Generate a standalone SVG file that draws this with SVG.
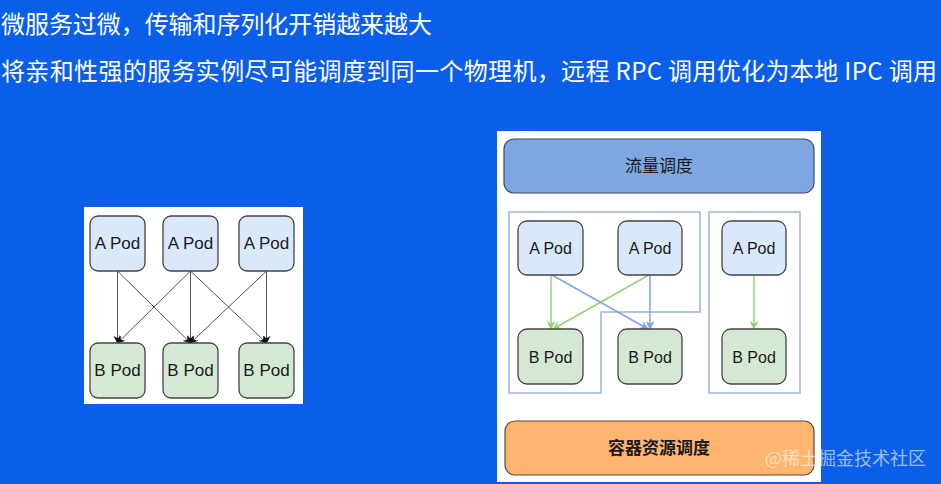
<svg xmlns="http://www.w3.org/2000/svg" width="941" height="484" viewBox="0 0 941 484">
<defs>
<style>
.head{font-family:"Noto Sans CJK SC","Liberation Sans",sans-serif;font-size:24px;fill:#ffffff}
.pod{font-family:"Liberation Sans",Arial,sans-serif;font-size:17px;fill:#1a1a1a;text-anchor:middle}
.podr{font-family:"Liberation Sans",Arial,sans-serif;font-size:16px;fill:#1a1a1a;text-anchor:middle}
.cjk{font-family:"Noto Sans CJK SC",sans-serif;font-size:17px;fill:#1a1a1a;text-anchor:middle}
.a{fill:#dae8fc;stroke:#444444;stroke-width:1.3}
.b{fill:#d5e8d4;stroke:#444444;stroke-width:1.3}
.blk{stroke:#555555;stroke-width:1;fill:none;marker-end:url(#mb)}
.grn{stroke:#97d077;stroke-width:1.5;fill:none;marker-end:url(#mg)}
.blu{stroke:#7ea6e0;stroke-width:1.5;fill:none;marker-end:url(#mu)}
.cont{fill:none;stroke:#9db3de;stroke-width:1.5}
</style>
<marker id="mb" viewBox="0 0 10 10" refX="9" refY="5" markerWidth="8" markerHeight="8" markerUnits="userSpaceOnUse" orient="auto"><path d="M0,0 L10,5 L0,10 L3,5 z" fill="#111"/></marker>
<marker id="mg" viewBox="0 0 10 10" refX="9" refY="5" markerWidth="9" markerHeight="9" markerUnits="userSpaceOnUse" orient="auto"><path d="M0,0 L10,5 L0,10 L3,5 z" fill="#97d077"/></marker>
<marker id="mu" viewBox="0 0 10 10" refX="9" refY="5" markerWidth="9" markerHeight="9" markerUnits="userSpaceOnUse" orient="auto"><path d="M0,0 L10,5 L0,10 L3,5 z" fill="#7ea6e0"/></marker>
</defs>
<rect x="0" y="0" width="941" height="484" fill="#0a5ee8"/>
<g id="heading">
<text class="head" x="1" y="33" textLength="431" lengthAdjust="spacing">微服务过微，传输和序列化开销越来越大</text>
<text class="head" x="1" y="80" textLength="936" lengthAdjust="spacing">将亲和性强的服务实例尽可能调度到同一个物理机，远程 RPC 调用优化为本地 IPC 调用</text>
</g>
<g id="left-panel">
<rect x="84" y="207" width="219" height="197" fill="#ffffff"/>
</g>
<g id="left-connectors">
<line class="blk" x1="117.5" y1="271" x2="117.5" y2="343"/>
<line class="blk" x1="117.5" y1="271" x2="190.5" y2="343"/>
<line class="blk" x1="190.5" y1="271" x2="117.5" y2="343"/>
<line class="blk" x1="190.5" y1="271" x2="190.5" y2="343"/>
<line class="blk" x1="190.5" y1="271" x2="266.5" y2="343"/>
<line class="blk" x1="266.5" y1="271" x2="190.5" y2="343"/>
<line class="blk" x1="266.5" y1="271" x2="266.5" y2="343"/>
</g>
<g id="l-a1"><rect class="a" x="90" y="216" width="55" height="55" rx="8"/><text class="pod" x="117.5" y="249">A Pod</text></g>
<g id="l-a2"><rect class="a" x="163" y="216" width="55" height="55" rx="8"/><text class="pod" x="190.5" y="249">A Pod</text></g>
<g id="l-a3"><rect class="a" x="239" y="216" width="55" height="55" rx="8"/><text class="pod" x="266.5" y="249">A Pod</text></g>
<g id="l-b1"><rect class="b" x="90" y="343" width="55" height="55" rx="8"/><text class="pod" x="117.5" y="376">B Pod</text></g>
<g id="l-b2"><rect class="b" x="163" y="343" width="55" height="55" rx="8"/><text class="pod" x="190.5" y="376">B Pod</text></g>
<g id="l-b3"><rect class="b" x="239" y="343" width="55" height="55" rx="8"/><text class="pod" x="266.5" y="376">B Pod</text></g>

<g id="right-panel">
<rect x="497" y="131" width="324" height="351" fill="#ffffff"/>
</g>
<g id="traffic"><rect x="504" y="139" width="310" height="54" rx="10" fill="#7ea6e0" stroke="#3f4a5f" stroke-width="1.2"/><text class="cjk" x="659" y="172">流量调度</text></g>
<g id="host1"><path class="cont" d="M509,212 H700 V312 H601 V393 H509 Z"/></g>
<g id="host2"><rect class="cont" x="709" y="212" width="91" height="181"/></g>
<g id="right-connectors">
<line class="grn" x1="551" y1="275" x2="551" y2="329"/>
<line class="grn" x1="649" y1="275" x2="553" y2="329"/>
<line class="blu" x1="552" y1="275" x2="648" y2="329"/>
<line class="blu" x1="650" y1="275" x2="650" y2="329"/>
<line class="grn" x1="754" y1="275" x2="754" y2="329"/>
</g>
<g id="r-a1"><rect class="a" x="518" y="221" width="65" height="54" rx="9"/><text class="podr" x="550.5" y="254">A Pod</text></g>
<g id="r-a2"><rect class="a" x="618" y="221" width="64" height="54" rx="9"/><text class="podr" x="650" y="254">A Pod</text></g>
<g id="r-a3"><rect class="a" x="722" y="221" width="64" height="54" rx="9"/><text class="podr" x="754" y="254">A Pod</text></g>
<g id="r-b1"><rect class="b" x="518" y="329" width="65" height="55" rx="9"/><text class="podr" x="550.5" y="363">B Pod</text></g>
<g id="r-b2"><rect class="b" x="618" y="329" width="64" height="55" rx="9"/><text class="podr" x="650" y="363">B Pod</text></g>
<g id="r-b3"><rect class="b" x="722" y="329" width="64" height="55" rx="9"/><text class="podr" x="754" y="363">B Pod</text></g>
<g id="resource"><rect x="505" y="421" width="309" height="54" rx="10" fill="#ffb570" stroke="#5a4a3a" stroke-width="1.2"/><text class="cjk" x="659" y="454" font-weight="bold">容器资源调度</text></g>
<g id="watermark"><text x="765" y="465" font-family="Noto Sans CJK SC, sans-serif" font-size="18" fill="#ffffff" fill-opacity="0.6">@稀土掘金技术社区</text></g>
</svg>
